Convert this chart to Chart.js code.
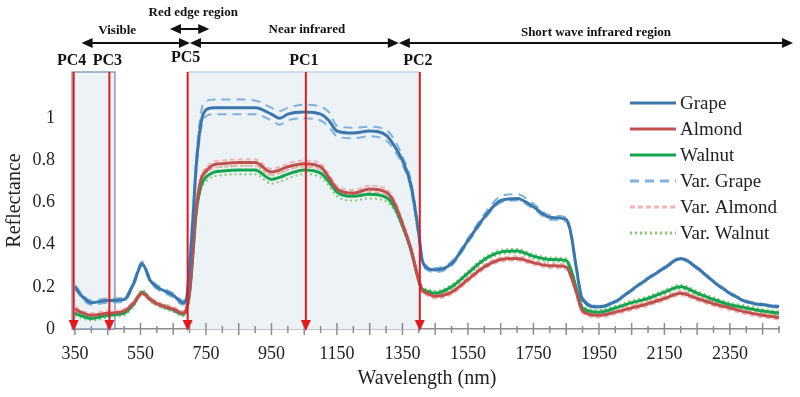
<!DOCTYPE html>
<html>
<head>
<meta charset="utf-8">
<script src="https://cdn.jsdelivr.net/npm/chart.js@4.4.0/dist/chart.umd.min.js"></script>
<style>
  html, body { margin: 0; padding: 0; background: #fff; }
  #wrap { width: 800px; height: 397px; position: relative; }
</style>
</head>
<body>
<div id="wrap"><canvas id="chart"></canvas></div>
<script>
/* ── data ── */
const wavelengths = [350,375,400,450,500,530,555,580,600,650, 680,690,700,710,720,735,750,775,800,850,
  900,950,975,1000,1050,1100,1125,1150,1200,1250, 1300,1325,1350,1375,1400,1410,1425,1450,1500,1550,
  1600,1650,1700,1750,1800,1850,1865,1880,1900,1950, 2000,2050,2100,2150,2200,2250,2300,2350,2400,2450, 2500];

const grape = [0.2,0.15,0.125,0.135,0.14,0.22,0.31,0.23,0.2,0.16, 0.125,0.14,0.3,0.52,0.77,0.98,1.04,1.05,1.05,1.05,
  1.05,1.02,1.0,1.02,1.03,1.02,0.99,0.94,0.93,0.94, 0.92,0.87,0.8,0.69,0.45,0.33,0.29,0.28,0.31,0.42,
  0.53,0.61,0.62,0.58,0.53,0.52,0.45,0.3,0.14,0.105, 0.13,0.185,0.24,0.29,0.335,0.29,0.225,0.17,0.13,0.115, 0.105];
const almond = [0.095,0.075,0.065,0.075,0.085,0.125,0.17,0.14,0.12,0.095, 0.075,0.095,0.18,0.37,0.57,0.71,0.75,0.78,0.785,0.79,
  0.79,0.745,0.755,0.77,0.785,0.77,0.72,0.665,0.645,0.665, 0.65,0.6,0.5,0.385,0.23,0.185,0.17,0.155,0.175,0.235,
  0.295,0.33,0.335,0.315,0.3,0.295,0.25,0.18,0.085,0.065, 0.08,0.1,0.12,0.145,0.17,0.145,0.12,0.1,0.08,0.065, 0.055];
const walnut = [0.075,0.06,0.05,0.065,0.075,0.12,0.175,0.14,0.12,0.09, 0.07,0.09,0.17,0.35,0.55,0.68,0.72,0.745,0.75,0.755,
  0.755,0.71,0.72,0.735,0.755,0.74,0.7,0.65,0.63,0.64, 0.625,0.58,0.49,0.38,0.23,0.19,0.18,0.17,0.2,0.265,
  0.33,0.365,0.37,0.345,0.33,0.325,0.28,0.2,0.1,0.08, 0.1,0.125,0.145,0.175,0.2,0.17,0.14,0.115,0.1,0.085, 0.075];

// variability envelopes (upper / lower)
const varGrapeHi = [0.21,0.16,0.135,0.145,0.15,0.23,0.32,0.24,0.21,0.17, 0.135,0.15,0.32,0.55,0.8,1.03,1.08,1.09,1.09,1.09,
  1.085,1.05,1.035,1.05,1.065,1.055,1.03,0.965,0.955,0.96, 0.945,0.9,0.82,0.71,0.47,0.34,0.3,0.29,0.32,0.43,
  0.545,0.63,0.64,0.595,0.54,0.53,0.46,0.31,0.15,0.11, 0.135,0.19,0.245,0.295,0.34,0.295,0.23,0.175,0.135,0.12, 0.11];
const varGrapeLo = [0.19,0.14,0.115,0.125,0.13,0.21,0.3,0.22,0.19,0.15, 0.115,0.13,0.28,0.49,0.74,0.95,1.01,1.02,1.02,1.02,
  1.02,0.99,0.97,0.99,1.0,0.99,0.96,0.915,0.905,0.915, 0.895,0.85,0.78,0.67,0.43,0.32,0.28,0.27,0.3,0.41,
  0.52,0.6,0.61,0.57,0.52,0.51,0.44,0.29,0.13,0.1, 0.125,0.18,0.235,0.285,0.33,0.285,0.22,0.165,0.125,0.11, 0.1];
const varAlmondHi = [0.105,0.085,0.075,0.085,0.095,0.135,0.18,0.15,0.13,0.105, 0.085,0.105,0.19,0.385,0.585,0.725,0.765,0.795,0.8,0.805,
  0.805,0.76,0.77,0.785,0.8,0.785,0.735,0.68,0.66,0.68, 0.665,0.615,0.515,0.395,0.24,0.195,0.18,0.165,0.185,0.245,
  0.305,0.34,0.345,0.325,0.31,0.305,0.26,0.19,0.095,0.075, 0.09,0.11,0.13,0.155,0.18,0.155,0.13,0.11,0.09,0.075, 0.065];
const varAlmondLo = [0.085,0.065,0.055,0.065,0.075,0.115,0.16,0.13,0.11,0.085, 0.065,0.085,0.17,0.355,0.555,0.695,0.735,0.765,0.77,0.775,
  0.775,0.73,0.74,0.755,0.77,0.755,0.705,0.65,0.63,0.65, 0.635,0.585,0.485,0.375,0.22,0.175,0.16,0.145,0.165,0.225,
  0.285,0.32,0.325,0.305,0.29,0.285,0.24,0.17,0.075,0.055, 0.07,0.09,0.11,0.135,0.16,0.135,0.11,0.09,0.07,0.055, 0.045];
const varWalnutHi = [0.085,0.07,0.06,0.075,0.085,0.13,0.185,0.15,0.13,0.1, 0.08,0.1,0.18,0.365,0.57,0.7,0.74,0.765,0.77,0.775,
  0.775,0.73,0.74,0.755,0.775,0.76,0.72,0.67,0.65,0.66, 0.645,0.595,0.5,0.39,0.24,0.2,0.19,0.18,0.21,0.275,
  0.34,0.375,0.38,0.355,0.34,0.335,0.29,0.21,0.11,0.09, 0.11,0.135,0.155,0.185,0.21,0.18,0.15,0.125,0.11,0.095, 0.085];
const varWalnutLo = [0.065,0.05,0.04,0.055,0.065,0.11,0.165,0.13,0.11,0.08, 0.06,0.08,0.16,0.335,0.53,0.66,0.7,0.725,0.73,0.735,
  0.735,0.69,0.7,0.715,0.735,0.72,0.68,0.63,0.61,0.62, 0.605,0.565,0.48,0.37,0.22,0.18,0.17,0.16,0.19,0.255,
  0.32,0.355,0.36,0.335,0.32,0.315,0.27,0.19,0.09,0.07, 0.09,0.115,0.135,0.165,0.19,0.16,0.13,0.105,0.09,0.075, 0.065];

const xTickLabels = [350,550,750,950,1150,1350,1550,1750,1950,2150,2350];
const yTickValues = [0,0.2,0.4,0.6,0.8,1];

const legendLabels = ["Grape","Almond","Walnut","Var. Grape","Var. Almond","Var. Walnut"];

/* ── annotations (wavelength in nm) ── */
const pcNames = ["PC4","PC3","PC5","PC1","PC2"];
const pcWl    = [346, 455, 694, 1055, 1403];
const nirBox  = [694, 1403];
const visBox  = [341, 472];
const regionArrows = [
  { from: 370,  to: 701,  y: 43 },
  { from: 701,  to: 1339, y: 43 },
  { from: 1339, to: 2543, y: 43 },
  { from: 640,  to: 760,  y: 29 },
];
const regionLabels = [
  { text: "Visible",                    at: 479,  y: 31 },
  { text: "Red edge region",            at: 711,  y: 13 },
  { text: "Near infrared",              at: 1058, y: 30 },
  { text: "Short wave infrared region", at: 1941, y: 33 },
];

/* ── palette ── */
const COLORS = {
  grape:     "#3a77ad",
  almond:    "#c0504d",
  walnut:    "#14a552",
  varGrape:  "#7fb2de",
  varAlmond: "#f1b3b3",
  varWalnut: "#86cc6e",
};

const SERIF = '"Liberation Serif", "DejaVu Serif", serif';
Chart.defaults.font.family = SERIF;
Chart.defaults.color = "#222";

/* ── helpers ── */
function series(label, values, color, extra) {
  return Object.assign({
    label,
    data: wavelengths.map((w, i) => ({ x: w, y: values[i] })),
    borderColor: color,
    backgroundColor: color,
    borderWidth: 3,
    pointRadius: 0,
    cubicInterpolationMode: "monotone",
    fill: false,
  }, extra || {});
}

const varStyle = (dash) => ({ borderWidth: 2, borderDash: dash, order: 2 });

const datasets = [
  series("Var. Grape",  varGrapeHi,  COLORS.varGrape,  varStyle([9, 6])),
  series("Var. Grape",  varGrapeLo,  COLORS.varGrape,  varStyle([9, 6])),
  series("Var. Almond", varAlmondHi, COLORS.varAlmond, varStyle([5, 3])),
  series("Var. Almond", varAlmondLo, COLORS.varAlmond, varStyle([5, 3])),
  series("Var. Walnut", varWalnutHi, COLORS.varWalnut, varStyle([2, 3])),
  series("Var. Walnut", varWalnutLo, COLORS.varWalnut, varStyle([2, 3])),
  series("Grape",  grape,  COLORS.grape,  { order: 1 }),
  series("Almond", almond, COLORS.almond, { order: 1 }),
  series("Walnut", walnut, COLORS.walnut, { order: 1 }),
];

function arrowHead(ctx, x, y, dir, len, half) {
  // dir: "left" | "right" | "down"
  ctx.beginPath();
  if (dir === "down") {
    ctx.moveTo(x, y); ctx.lineTo(x - half, y - len); ctx.lineTo(x + half, y - len);
  } else {
    const s = dir === "right" ? -1 : 1;
    ctx.moveTo(x, y); ctx.lineTo(x + s * len, y - half); ctx.lineTo(x + s * len, y + half);
  }
  ctx.closePath();
  ctx.fill();
}

/* ── backdrop: shaded boxes ── */
const backdrop = {
  id: "backdrop",
  beforeDatasetsDraw(chart) {
    const { ctx, chartArea: a, scales: { x } } = chart;
    ctx.save();
    // NIR box
    const n0 = x.getPixelForValue(nirBox[0]), n1 = x.getPixelForValue(nirBox[1]);
    ctx.fillStyle = "#edf2f7";
    ctx.fillRect(n0, a.top, n1 - n0, a.bottom - a.top);
    ctx.strokeStyle = "#c3d2e1";
    ctx.lineWidth = 1.5;
    ctx.beginPath(); ctx.moveTo(n0, a.top); ctx.lineTo(n1, a.top); ctx.stroke();
    // visible box
    const v0 = x.getPixelForValue(visBox[0]), v1 = x.getPixelForValue(visBox[1]);
    ctx.fillStyle = "#edf2f7";
    ctx.fillRect(v0, a.top, v1 - v0, a.bottom - a.top);
    ctx.strokeStyle = "#6c87a3";
    ctx.lineWidth = 1.2;
    ctx.strokeRect(v0, a.top, v1 - v0, a.bottom - a.top);
    ctx.restore();
  },
};

/* ── overlay: ticks, PC arrows, regions, legend ── */
const overlay = {
  id: "overlay",
  afterDraw(chart) {
    const { ctx, chartArea: a, scales: { x } } = chart;
    ctx.save();

    // x tick marks crossing the axis
    ctx.strokeStyle = "#8c8c8c";
    ctx.lineWidth = 1.5;
    for (let w = 350; w <= 2500; w += 50) {
      const px = x.getPixelForValue(w);
      const major = (w - 350) % 100 === 0;
      ctx.beginPath();
      ctx.moveTo(px, a.bottom - (major ? 6 : 3));
      ctx.lineTo(px, a.bottom + (major ? 6 : 4));
      ctx.stroke();
    }

    // red PC arrows
    ctx.strokeStyle = "#e3191e";
    ctx.fillStyle = "#e3191e";
    ctx.lineWidth = 2;
    ctx.font = "bold 16px " + SERIF;
    pcWl.forEach((w, i) => {
      const px = x.getPixelForValue(w);
      ctx.beginPath();
      ctx.moveTo(px, a.top);
      ctx.lineTo(px, a.bottom - 6);
      ctx.stroke();
      arrowHead(ctx, px, a.bottom + 2, "down", 11, 5);
    });
    ctx.fillStyle = "#111";
    ctx.textAlign = "center";
    ctx.textBaseline = "middle";
    pcWl.forEach((w, i) => {
      ctx.fillText(pcNames[i], x.getPixelForValue(w) - 2, i === 2 ? 58 : 61);
    });

    // region arrows
    ctx.strokeStyle = "#111";
    ctx.fillStyle = "#111";
    ctx.lineWidth = 2;
    regionArrows.forEach(r => {
      const p0 = x.getPixelForValue(r.from), p1 = x.getPixelForValue(r.to);
      ctx.beginPath(); ctx.moveTo(p0 + 6, r.y); ctx.lineTo(p1 - 6, r.y); ctx.stroke();
      arrowHead(ctx, p0, r.y, "left", 11, 5);
      arrowHead(ctx, p1, r.y, "right", 11, 5);
    });
    ctx.font = "bold 13px " + SERIF;
    regionLabels.forEach(l => ctx.fillText(l.text, x.getPixelForValue(l.at), l.y));

    // legend
    ctx.textAlign = "left";
    ctx.font = "19px " + SERIF;
    legendLabels.forEach((lbl, i) => {
      const ds = chart.data.datasets.find(d => d.label === lbl);
      const y = 103 + i * 26;
      ctx.strokeStyle = ds.borderColor;
      ctx.lineWidth = 3;
      ctx.setLineDash(ds.borderDash || []);
      ctx.beginPath(); ctx.moveTo(630, y); ctx.lineTo(676, y); ctx.stroke();
      ctx.setLineDash([]);
      ctx.fillStyle = "#222";
      ctx.fillText(lbl, 680, y + 1);
    });

    ctx.restore();
  },
};

new Chart(document.getElementById("chart"), {
  type: "line",
  data: { datasets },
  options: {
    responsive: true,
    maintainAspectRatio: false,
    animation: false,
    layout: { padding: { top: 72, right: 21, left: 0, bottom: 0 } },
    plugins: { legend: { display: false }, tooltip: { enabled: false } },
    scales: {
      x: {
        type: "linear",
        min: 350,
        max: 2500,
        afterFit: s => { s.height = 68; },
        afterBuildTicks: s => { s.ticks = xTickLabels.map(v => ({ value: v })); },
        grid: { display: false, drawTicks: false },
        border: { display: true, color: "#8c8c8c", width: 1.5 },
        ticks: { font: { size: 18 }, color: "#222", padding: 14, maxRotation: 0, autoSkip: false, callback: v => String(v) },
        title: { display: true, text: "Wavelength (nm)", font: { size: 20 }, color: "#222", padding: { top: 0, bottom: 6 } },
      },
      y: {
        min: 0,
        max: 1.22,
        afterFit: s => { s.width = 75; },
        afterBuildTicks: s => { s.ticks = yTickValues.map(v => ({ value: v })); },
        grid: { display: false, drawTicks: false },
        border: { display: false },
        ticks: { font: { size: 18 }, color: "#222", padding: 20, callback: v => String(v) },
        title: { display: true, text: "Reflectance", font: { size: 20 }, color: "#222", padding: { top: 3, bottom: 0 } },
      },
    },
  },
  plugins: [backdrop, overlay],
});
</script>
</body>
</html>
